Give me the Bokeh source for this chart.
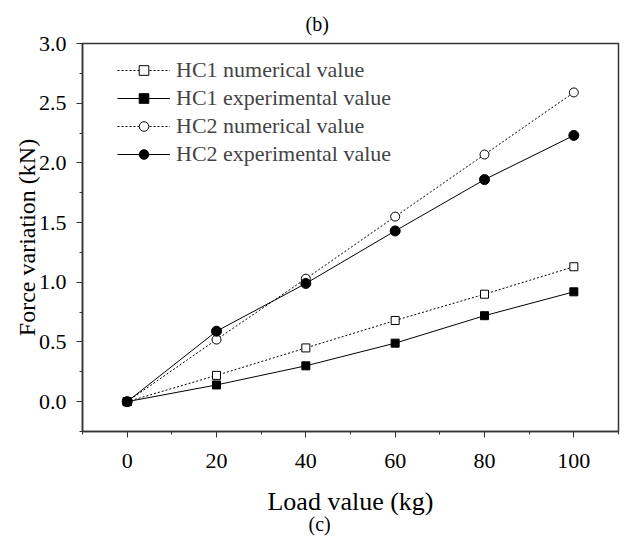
from bokeh.plotting import figure
from bokeh.models import Range1d, Legend, LegendItem, Title, FixedTicker, NumeralTickFormatter
from bokeh.embed import file_html
from bokeh.resources import INLINE

loads = [0, 20, 40, 60, 80, 100]
hc1_num = [0.0, 0.22, 0.45, 0.68, 0.90, 1.13]
hc1_exp = [0.0, 0.14, 0.30, 0.49, 0.72, 0.92]
hc2_num = [0.0, 0.52, 1.03, 1.55, 2.07, 2.59]
hc2_exp = [0.0, 0.59, 0.99, 1.43, 1.86, 2.23]
x_ticks = [0, 20, 40, 60, 80, 100]
y_ticks = [0.0, 0.5, 1.0, 1.5, 2.0, 2.5, 3.0]

FONT = "'Liberation Serif'"

p = figure(width=625, height=538, output_backend="svg", toolbar_location=None,
           x_range=Range1d(-10, 110), y_range=Range1d(-0.25, 3.0),
           min_border_left=82, min_border_right=7, min_border_top=43, min_border_bottom=107)

p.title.text = "(b)"
p.title.align = "left"
p.title.offset = 223
p.title.standoff = 14
p.title.vertical_align = "top"
p.title.text_font = FONT
p.title.text_font_size = "20px"
p.title.text_font_style = "normal"
p.title.text_color = "black"

p.xgrid.visible = False
p.ygrid.visible = False
p.outline_line_color = "#333333"
p.outline_line_width = 1.5

for ax in (p.xaxis[0], p.yaxis[0]):
    ax.axis_line_color = "#333333"
    ax.axis_line_width = 1.5
    ax.major_tick_line_color = "#333333"
    ax.minor_tick_line_color = "#333333"
    ax.major_tick_in = 0
    ax.minor_tick_in = 0
    ax.major_tick_out = 6
    ax.minor_tick_out = 3
    ax.major_label_text_font = FONT
    ax.major_label_text_font_size = "22px"
    ax.major_label_text_color = "black"
    ax.axis_label_text_font = FONT
    ax.axis_label_text_font_style = "normal"
    ax.axis_label_text_color = "black"

p.xaxis[0].axis_label_text_font_size = "26px"
p.yaxis[0].axis_label_text_font_size = "24px"
p.xaxis[0].ticker = FixedTicker(ticks=x_ticks, minor_ticks=[-10, 10, 30, 50, 70, 90, 110])
p.yaxis[0].ticker = FixedTicker(ticks=y_ticks, minor_ticks=[-0.25, 0.25, 0.75, 1.25, 1.75, 2.25, 2.75])
p.yaxis[0].formatter = NumeralTickFormatter(format="0.0")
p.xaxis[0].axis_label = "Load value (kg)"
p.yaxis[0].axis_label = "Force variation (kN)"
p.xaxis[0].major_label_standoff = 16
p.xaxis[0].axis_label_standoff = 16
p.yaxis[0].major_label_standoff = 10
p.yaxis[0].axis_label_standoff = -4

c_title = Title(text="(c)", align="left", offset=226, standoff=-16,
                text_font=FONT, text_font_size="20px", text_font_style="normal",
                text_color="black")
p.add_layout(c_title, "below")

l1 = p.line(loads, hc1_num, line_color="black", line_width=1, line_dash="2 2")
s1 = p.scatter(loads, hc1_num, marker="square", size=8, fill_color="white", line_color="black")
l2 = p.line(loads, hc1_exp, line_color="black", line_width=1)
s2 = p.scatter(loads, hc1_exp, marker="square", size=8, fill_color="black", line_color="black")
l3 = p.line(loads, hc2_num, line_color="black", line_width=1, line_dash="2 2")
s3 = p.scatter(loads, hc2_num, marker="circle", size=9, fill_color="white", line_color="black")
l4 = p.line(loads, hc2_exp, line_color="black", line_width=1)
s4 = p.scatter(loads, hc2_exp, marker="circle", size=10, fill_color="black", line_color="black")

legend = Legend(items=[
    LegendItem(label="HC1 numerical value", renderers=[l1, s1]),
    LegendItem(label="HC1 experimental value", renderers=[l2, s2]),
    LegendItem(label="HC2 numerical value", renderers=[l3, s3]),
    LegendItem(label="HC2 experimental value", renderers=[l4, s4]),
], location=(35, 264))
legend.border_line_color = None
legend.background_fill_alpha = 0
legend.label_text_font = FONT
legend.label_text_font_size = "22px"
legend.glyph_width = 53
legend.glyph_height = 24
legend.label_height = 24
legend.spacing = 2
legend.padding = 0
legend.margin = 0
legend.label_standoff = 6
p.add_layout(legend)

open("out.html", "w").write(file_html(p, INLINE))
